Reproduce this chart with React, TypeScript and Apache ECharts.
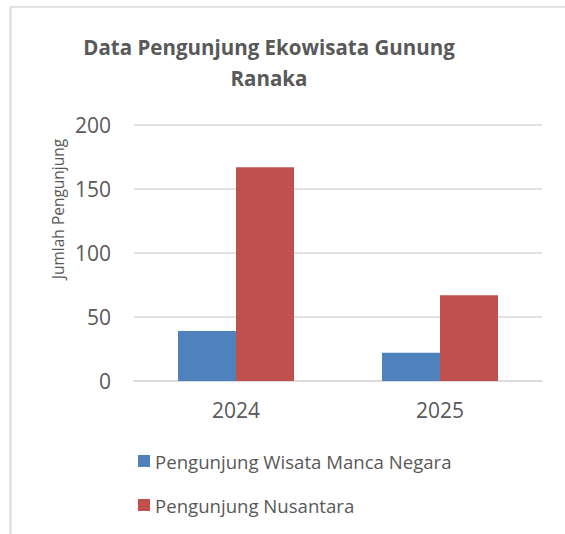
import React, { useEffect, useRef } from "react";
import * as echarts from "echarts";

const categories = ["2024", "2025"];
const mancaNegara = [39, 22];
const nusantara = [167, 67];
const seriesNames = ["Pengunjung Wisata Manca Negara", "Pengunjung Nusantara"];
const titleText = "Data Pengunjung Ekowisata Gunung\nRanaka";
const yAxisTitle = "Jumlah Pengunjung";

const FONT = "'Open Sans', 'Noto Sans', sans-serif";
const TEXT = "#595959";
const GRID = "#d9d9d9";

export default function App() {
  const ref = useRef<HTMLDivElement>(null);
  useEffect(() => {
    if (!ref.current) return;
    const chart = echarts.init(ref.current, undefined, { renderer: "svg" });
    chart.setOption({
      animation: false,
      backgroundColor: "#ffffff",
      grid: { left: 134, right: 23, top: 125, bottom: 153, containLabel: false },
      xAxis: {
        type: "category",
        data: categories,
        axisLine: { lineStyle: { color: GRID, width: 1.5 } },
        axisTick: { show: false },
        axisLabel: { fontFamily: FONT, fontSize: 21, color: TEXT, margin: 18 },
      },
      yAxis: {
        type: "value",
        min: 0,
        max: 200,
        interval: 50,
        axisLine: { show: false },
        axisTick: { show: false },
        axisLabel: { fontFamily: FONT, fontSize: 21, color: TEXT, margin: 23 },
        splitLine: { lineStyle: { color: GRID, width: 1.5 } },
      },
      legend: {
        orient: "vertical",
        left: 138,
        top: 451,
        padding: 0,
        itemWidth: 12,
        itemHeight: 12,
        itemGap: 24,
        icon: "rect",
        textStyle: { fontFamily: FONT, fontSize: 18.6, color: TEXT, lineHeight: 20 },
        data: seriesNames,
      },
      series: [
        {
          name: seriesNames[0],
          type: "bar",
          data: mancaNegara,
          barWidth: 58,
          barGap: "0%",
          itemStyle: { color: "#4f81bd" },
        },
        {
          name: seriesNames[1],
          type: "bar",
          data: nusantara,
          barWidth: 58,
          barGap: "0%",
          itemStyle: { color: "#c0504d" },
        },
      ],
      graphic: [
        {
          type: "line",
          shape: { x1: 10, y1: 7, x2: 565, y2: 7 },
          style: { stroke: GRID, lineWidth: 1.5 },
        },
        {
          type: "line",
          shape: { x1: 10.5, y1: 7, x2: 10.5, y2: 534 },
          style: { stroke: GRID, lineWidth: 2 },
        },
        {
          type: "text",
          x: 269,
          y: 31,
          style: {
            text: titleText,
            fontFamily: FONT,
            fontSize: 20.5,
            fontWeight: "bold",
            lineHeight: 31,
            fill: TEXT,
            textAlign: "center",
            textVerticalAlign: "top",
          },
        },
        {
          type: "text",
          x: 58,
          y: 209,
          rotation: Math.PI / 2,
          style: {
            text: yAxisTitle,
            fontFamily: FONT,
            fontSize: 15.5,
            fill: TEXT,
            textAlign: "center",
            textVerticalAlign: "middle",
          },
        },
      ],
    });
    return () => chart.dispose();
  }, []);
  return (
    <div
      ref={ref}
      style={{ position: "absolute", left: 0, top: 0, width: 565, height: 534 }}
    />
  );
}
